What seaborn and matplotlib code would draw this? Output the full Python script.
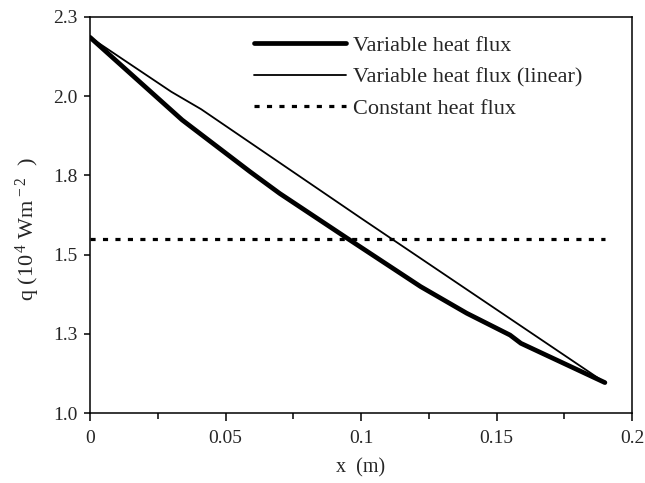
import matplotlib
matplotlib.use("Agg")
import matplotlib.pyplot as plt
import seaborn as sns
import pandas as pd
from matplotlib.ticker import FixedLocator, FixedFormatter

# Data
var_x = [0, 0.034, 0.059, 0.070, 0.095, 0.122, 0.139, 0.155, 0.159, 0.167, 0.19]
var_q = [2.186, 1.925, 1.762, 1.693, 1.551, 1.399, 1.315, 1.246, 1.220, 1.188, 1.096]

lin_x = [0, 0.030, 0.041, 0.100, 0.19]
lin_q = [2.186, 2.014, 1.959, 1.615, 1.096]

const_x = [0, 0.19]
const_q = [1.548, 1.548]

labels = ["Variable heat flux", "Variable heat flux (linear)", "Constant heat flux"]
xtick_vals = [0, 0.05, 0.1, 0.15, 0.2]
xtick_labels = ["0", "0.05", "0.1", "0.15", "0.2"]
ytick_vals = [1.0, 1.25, 1.5, 1.75, 2.0, 2.25]
ytick_labels = ["1.0", "1.3", "1.5", "1.8", "2.0", "2.3"]

sns.set_style("white")
plt.rcParams["font.family"] = ["Liberation Serif", "DejaVu Serif"]
plt.rcParams["mathtext.fontset"] = "custom"
plt.rcParams["mathtext.rm"] = "Liberation Serif"
plt.rcParams["mathtext.it"] = "Liberation Serif:italic"
plt.rcParams["mathtext.default"] = "rm"

fig = plt.figure(figsize=(6.45, 4.83), dpi=100)
ax = fig.add_axes([90 / 645, 70 / 483, 542 / 645, 396 / 483])

df_var = pd.DataFrame({"x": var_x, "q": var_q})
df_lin = pd.DataFrame({"x": lin_x, "q": lin_q})
df_const = pd.DataFrame({"x": const_x, "q": const_q})

sns.lineplot(data=df_var, x="x", y="q", ax=ax, color="black", linewidth=3.4,
             solid_capstyle="round", solid_joinstyle="round", label=labels[0], sort=False)
sns.lineplot(data=df_lin, x="x", y="q", ax=ax, color="black", linewidth=1.3,
             label=labels[1], sort=False)
sns.lineplot(data=df_const, x="x", y="q", ax=ax, color="black", linewidth=2.3,
             dashes=False, label=labels[2], sort=False)
ax.lines[2].set_dashes((1.6, 2.3))
ax.lines[2].set_dash_capstyle("butt")

ax.set_xlim(0, 0.2)
ax.set_ylim(1.0, 2.25)
ax.xaxis.set_major_locator(FixedLocator(xtick_vals))
ax.xaxis.set_major_formatter(FixedFormatter(xtick_labels))
ax.xaxis.set_minor_locator(FixedLocator([0.025, 0.075, 0.125, 0.175]))
ax.yaxis.set_major_locator(FixedLocator(ytick_vals))
ax.yaxis.set_major_formatter(FixedFormatter(ytick_labels))

for s in ax.spines.values():
    s.set_color("black")
    s.set_linewidth(1.1)
ax.tick_params(axis="x", which="major", direction="out", length=5.5, width=1.1,
               labelsize=14, pad=6.5, color="black", bottom=True)
ax.tick_params(axis="x", which="minor", direction="out", length=4, width=1.1,
               color="black", bottom=True)
ax.tick_params(axis="y", which="major", direction="out", length=4, width=1.1,
               labelsize=14, pad=5, color="black", left=True)

ax.set_xlabel("x  (m)", fontsize=14.5, labelpad=8)
ax.set_ylabel(r"q (10$^{\,4}$ Wm$^{\,-2}$  )", fontsize=16)
ax.yaxis.set_label_coords(-0.088, 0.465)

leg = ax.legend(loc="upper left", bbox_to_anchor=(0.302, 0.953), frameon=False,
                fontsize=16, handlelength=4.15, handletextpad=0.3, labelspacing=0.48,
                borderpad=0, borderaxespad=0)

fig.savefig("out.png", dpi=100)
